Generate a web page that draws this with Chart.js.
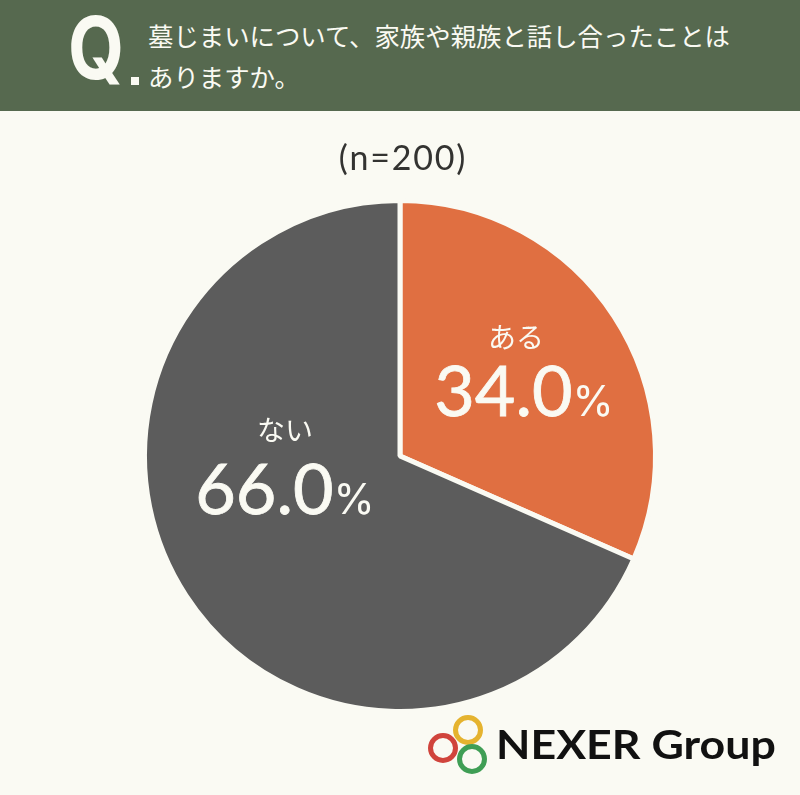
<!doctype html>
<html lang="ja">
<head>
<meta charset="UTF-8">
<title>墓じまいについて</title>
<script src="https://cdn.jsdelivr.net/npm/chart.js"></script>
<style>
  html, body { margin: 0; padding: 0; background: #fafaf3; }
  #page { position: relative; width: 800px; height: 795px; overflow: hidden; background: #fafaf3; }
  #head { position: absolute; left: 0; top: 0; width: 800px; height: 111px; background: #56694f; }
  #q { position: absolute; left: 68px; top: -2px; font: 700 86px/100px Inter, sans-serif; color: #fafaf3; transform: scaleX(0.84); transform-origin: left top; }
  #dot { position: absolute; left: 131px; top: 77px; width: 8px; height: 8px; background: #fafaf3; }
  .qt { position: absolute; left: 148px; font: 400 25.4px/34px "Noto Sans CJK JP", sans-serif; color: #fafaf3; white-space: nowrap; }
  #n { position: absolute; left: 0; width: 806px; top: 136px; text-align: center; font: 400 34px/42px Lato, sans-serif; letter-spacing: 1.8px; color: #333331; }
  #wrap { position: absolute; left: 0; top: 0; width: 800px; height: 795px; }
  #logo { position: absolute; left: 420px; top: 700px; }
  #brand { position: absolute; left: 496px; top: 719px; font: 700 41px/50px Lato, sans-serif; color: #111; white-space: nowrap; transform: scaleX(1.09); transform-origin: left top; }
</style>
</head>
<body>
<div id="page">
  <div id="wrap"><canvas id="pie" width="800" height="795"></canvas></div>
  <div id="head">
    <div id="q">Q</div><div id="dot"></div>
    <div class="qt" style="top:18px">墓じまいについて、家族や親族と話し合ったことは</div>
    <div class="qt" style="top:59px">ありますか。</div>
  </div>
  <div id="n">(n=200)</div>
  <svg id="logo" width="70" height="80" fill="none" stroke-width="5">
    <circle cx="48" cy="30" r="12.5" stroke="#e5b32f"/>
    <circle cx="23" cy="48" r="12.5" stroke="#d0443c"/>
    <circle cx="52" cy="59" r="12.5" stroke="#3f9e55"/>
  </svg>
  <div id="brand">NEXER Group</div>
</div>
<script>
const categories = ['ある', 'ない'];
// printed percentages
const values = [34.0, 66.0];
// the reference's slices are not drawn to the printed numbers: its boundary
// sits at about 113.8deg, so these are the shares
const drawnShares = [31.6, 68.4];
const colors = ['#e06f41', '#5c5c5c'];

// number offset from each slice's centre point, then category label offset from the number
const numberOffsets = [[17, 7], [-8, -34]];
const labelOffsets = [[-8, -56], [0, -61]];

const sliceLabels = {
  id: 'sliceLabels',
  afterDatasetsDraw(chart) {
    const ctx = chart.ctx;
    const arcs = chart.getDatasetMeta(0).data;
    ctx.save();
    ctx.fillStyle = '#fafaf3';
    ctx.strokeStyle = '#fafaf3';
    ctx.lineWidth = 0.8;
    ctx.textBaseline = 'middle';
    arcs.forEach((arc, i) => {
      const p = arc.tooltipPosition();
      const x = p.x + numberOffsets[i][0];
      const y = p.y + numberOffsets[i][1];
      ctx.textAlign = 'center';
      ctx.font = '400 28px "Noto Sans CJK JP"';
      ctx.fillText(categories[i], x + labelOffsets[i][0], y + labelOffsets[i][1]);
      const num = values[i].toFixed(1);
      ctx.font = '400 70px Lato';
      const w1 = ctx.measureText(num).width;
      ctx.font = '400 42px Inter';
      const w2 = ctx.measureText('%').width;
      const left = x - (w1 + w2) / 2;
      ctx.textAlign = 'left';
      ctx.font = '400 70px Lato';
      ctx.fillText(num, left, y);
      ctx.strokeText(num, left, y);
      ctx.font = '400 42px Inter';
      ctx.fillText('%', left + w1, y + 10);
    });
    ctx.restore();
  }
};

new Chart(document.getElementById('pie'), {
  type: 'pie',
  data: {
    labels: categories,
    datasets: [{
      data: drawnShares,
      backgroundColor: colors,
      borderColor: '#fafaf3',
      borderWidth: 5
    }]
  },
  options: {
    responsive: false,
    animation: false,
    rotation: 0,
    layout: { padding: { left: 142, right: 142, top: 198, bottom: 81 } },
    plugins: { legend: { display: false }, tooltip: { enabled: false } }
  },
  plugins: [sliceLabels]
});
</script>
</body>
</html>
